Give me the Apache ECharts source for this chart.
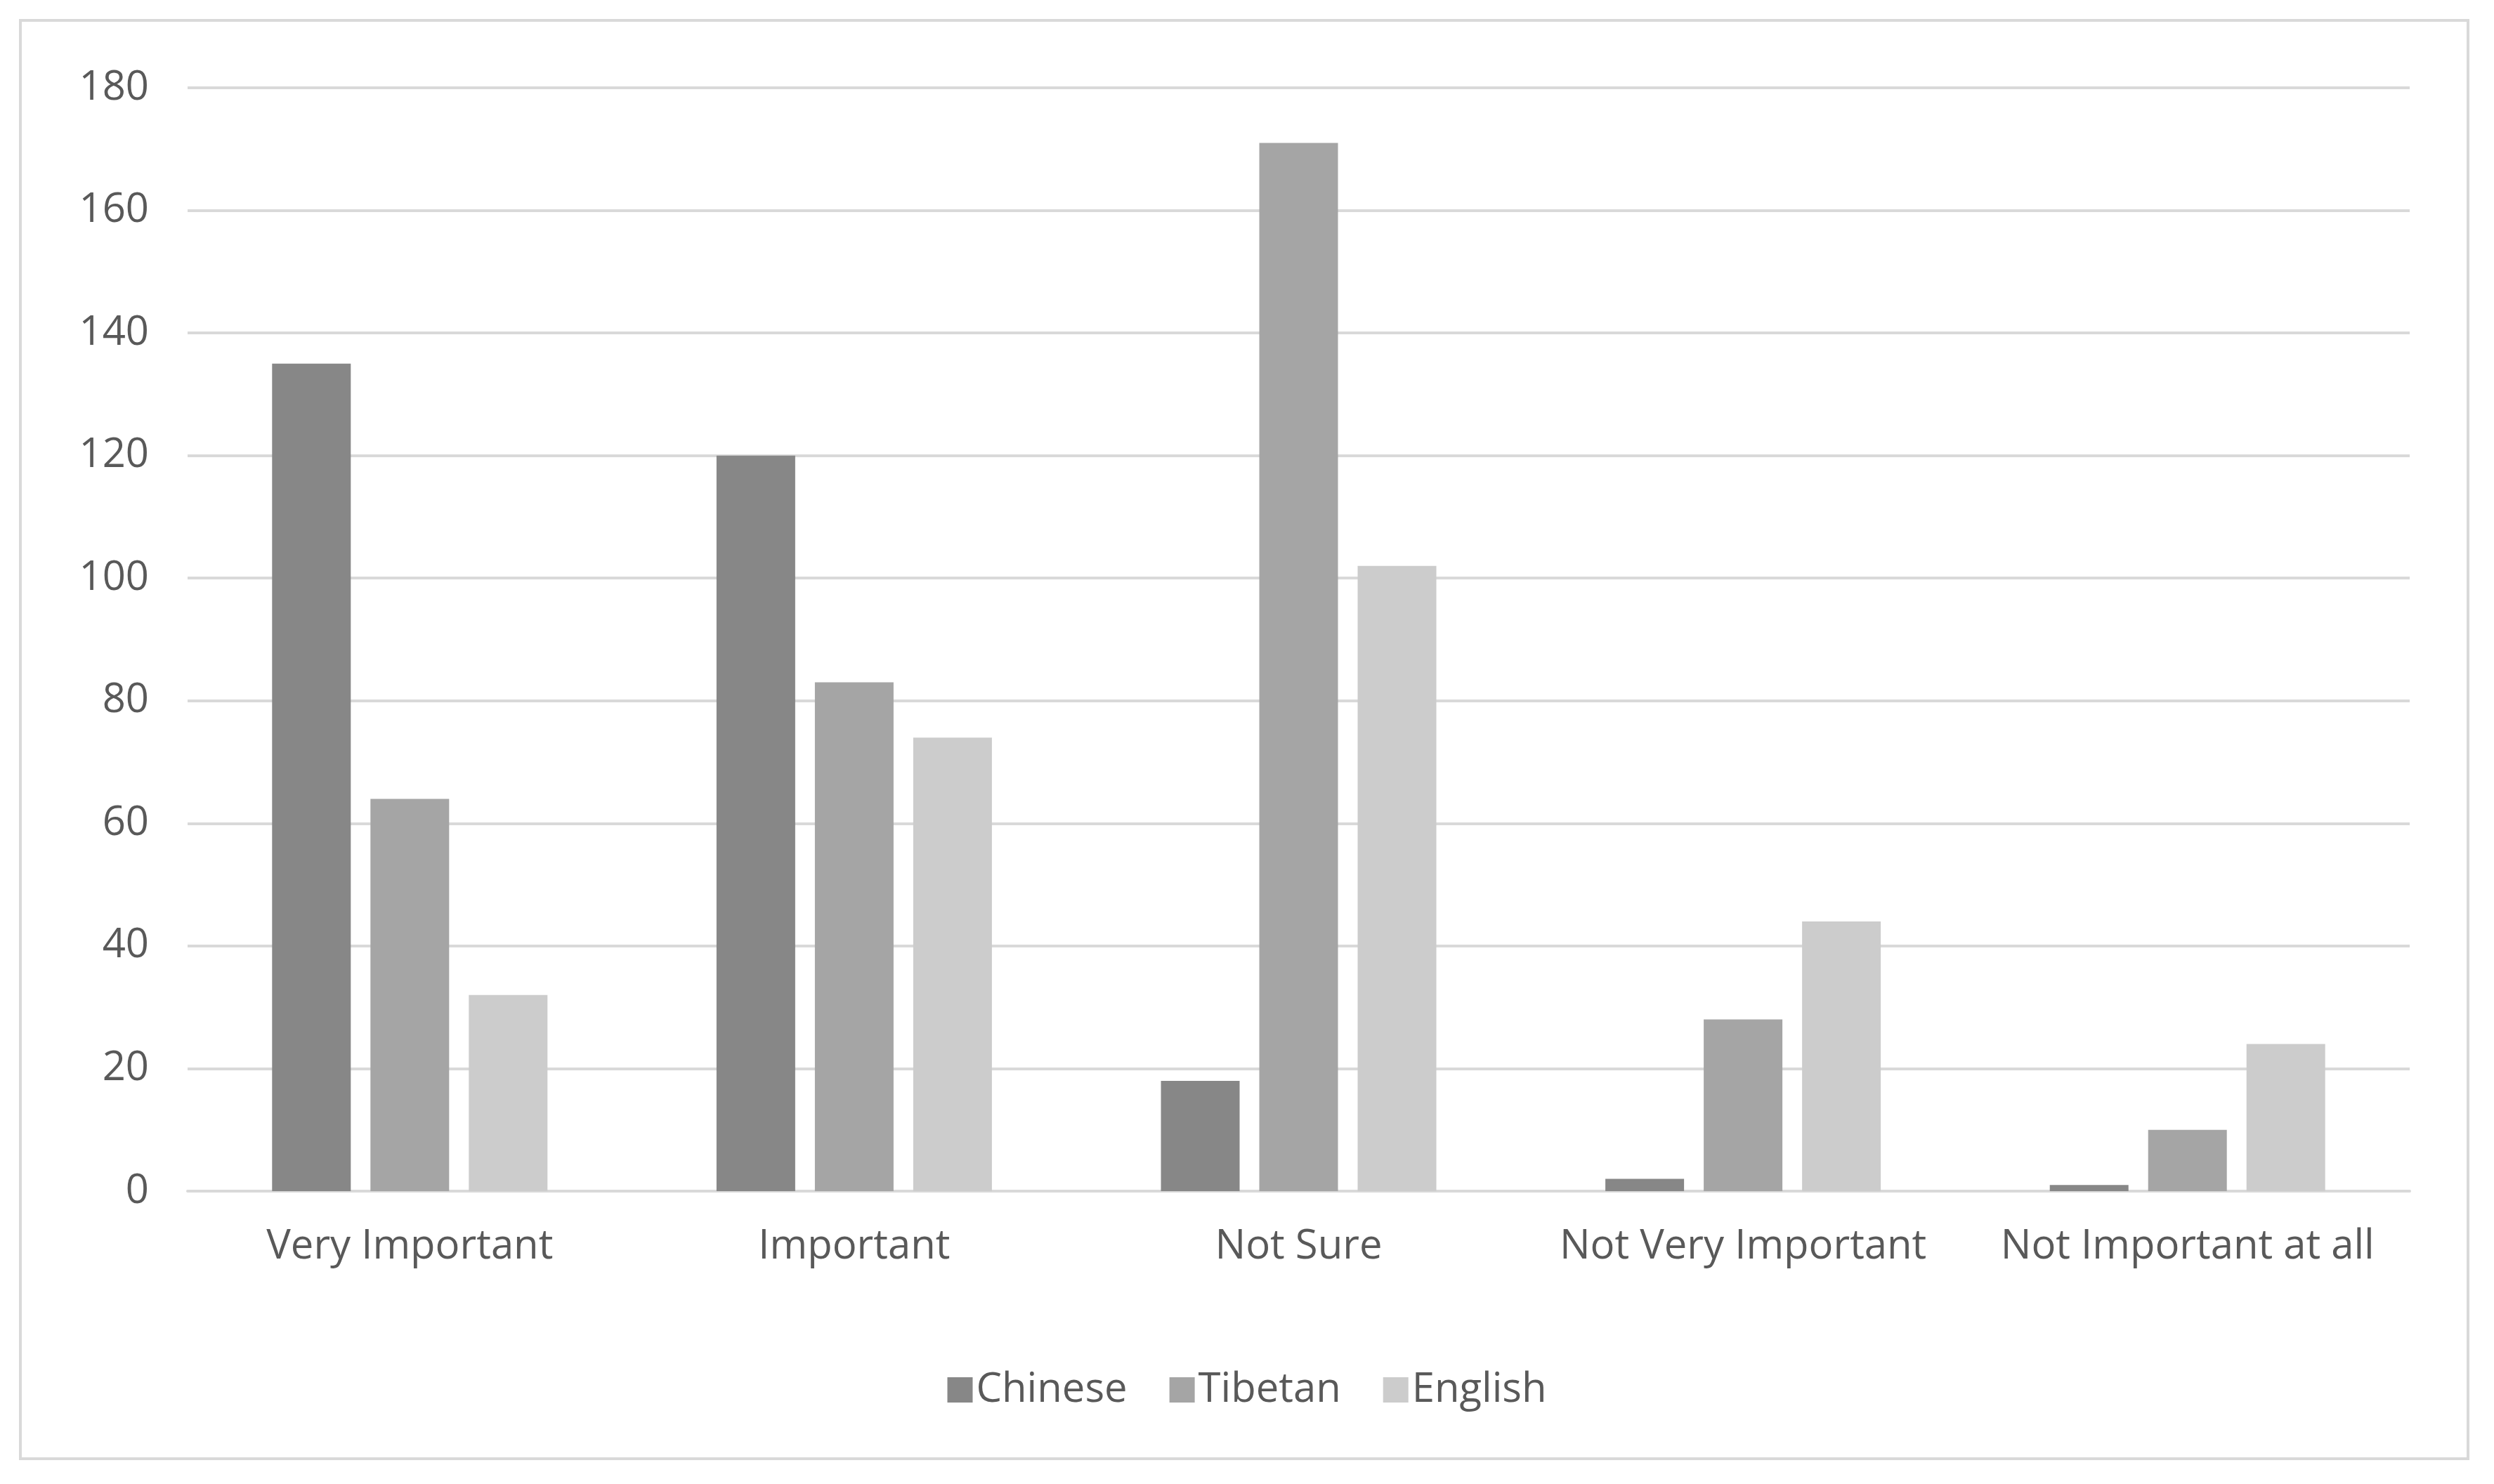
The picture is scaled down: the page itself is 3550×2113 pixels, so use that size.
<!DOCTYPE html>
<html>
<head>
<meta charset="utf-8">
<script src="https://cdn.jsdelivr.net/npm/echarts@6/dist/echarts.min.js"></script>
<style>
  html, body { margin: 0; padding: 0; background: #fff; }
  #frame { position: absolute; left: 27px; top: 27px; width: 3488px; height: 2052px; border: 4px solid #d9d9d9; box-sizing: border-box; }
  #chart { position: absolute; left: 0; top: 0; width: 3550px; height: 2113px; }
</style>
</head>
<body>
<div id="frame"></div>
<div id="chart"></div>
<script>
// chart data
const categories = ['Very Important', 'Important', 'Not Sure', 'Not Very Important', 'Not Important at all'];
const chinese = [135, 120, 18, 2, 1];
const tibetan = [64, 83, 171, 28, 10];
const english = [32, 74, 102, 44, 24];

const chart = echarts.init(document.getElementById('chart'));
const font = 'Open Sans';
const textColor = '#595959';

chart.setOption({
  animation: false,
  grid: { left: 267, right: 120, top: 125, bottom: 417 },
  legend: {
    bottom: 100,
    itemWidth: 36, itemHeight: 36, itemGap: 60,
    icon: 'rect',
    textStyle: { fontSize: 58, color: textColor, fontFamily: font }
  },
  xAxis: {
    type: 'category',
    data: categories,
    axisLine: { lineStyle: { color: '#d9d9d9', width: 4 } },
    axisTick: { show: false },
    axisLabel: { fontSize: 58, color: textColor, fontFamily: font, margin: 50, interval: 0 }
  },
  yAxis: {
    type: 'value',
    min: 0, max: 180, interval: 20,
    axisLine: { show: false },
    axisTick: { show: false },
    splitLine: { lineStyle: { color: '#d9d9d9', width: 4 } },
    axisLabel: { fontSize: 58, color: textColor, fontFamily: font, margin: 55 }
  },
  series: [
    { name: 'Chinese', type: 'bar', data: chinese, barWidth: 112, barGap: '25%', itemStyle: { color: '#878787' } },
    { name: 'Tibetan', type: 'bar', data: tibetan, barWidth: 112, barGap: '25%', itemStyle: { color: '#a5a5a5' } },
    { name: 'English', type: 'bar', data: english, barWidth: 112, barGap: '25%', itemStyle: { color: '#cccccc' } }
  ]
});
</script>
</body>
</html>
